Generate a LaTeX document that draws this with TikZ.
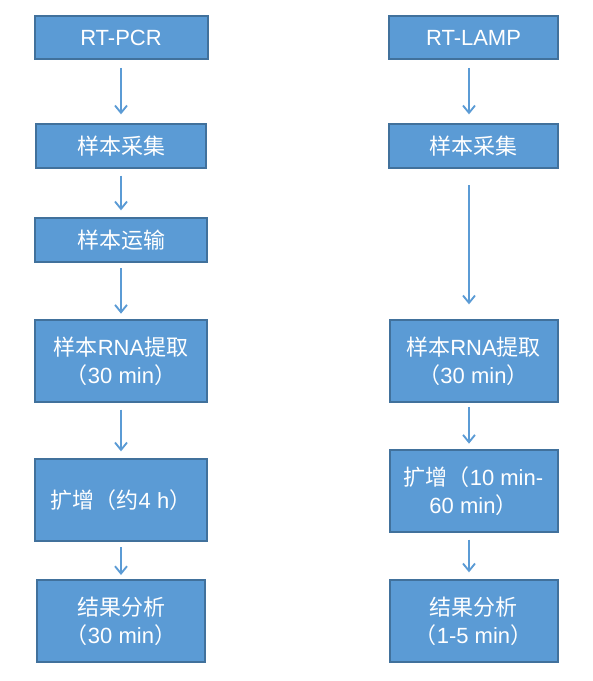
\documentclass[tikz,border=0pt]{standalone}
\usepackage{fontspec}
\setmainfont{Liberation Sans}
\newfontfamily\zhfont{Noto Sans CJK SC}
\newcommand{\zh}[1]{{\zhfont #1}}
\usetikzlibrary{arrows.meta}
\definecolor{boxfill}{HTML}{5B9BD5}
\definecolor{boxline}{HTML}{41719C}

\begin{document}
\begin{tikzpicture}[x=0.75pt,y=0.75pt,yscale=-1,
	stepbox/.style={draw=boxline,fill=boxfill,line width=1.5pt,text=white,align=center,inner sep=0pt,font=\fontsize{16.5}{21}\selectfont},
	flow/.style={draw=boxfill,line width=1.4pt,-{Straight Barb[length=5.5pt,width=9pt,line width=1.4pt]},shorten <=5pt,shorten >=5pt}]
	\useasboundingbox (0,0) rectangle (592,681);
	
	%Shape: Rectangle, left column
	\node (pcr) [stepbox,minimum width=129.75pt,minimum height=32.25pt] at (121,37.5) {RT-PCR};
	\node (pcrcol) [stepbox,minimum width=127.5pt,minimum height=33pt] at (121,146) {\zh{样本采集}};
	\node (pcrship) [stepbox,minimum width=129pt,minimum height=33pt] at (121,240) {\zh{样本运输}};
	\node (pcrrna) [stepbox,minimum width=129pt,minimum height=61.5pt] at (121,361) {\zh{样本}RNA\zh{提取}\\\zh{（}30 min\zh{）}};
	\node (pcramp) [stepbox,minimum width=129pt,minimum height=61.5pt] at (121,500) {\zh{扩增（约}4 h\zh{）}};
	\node (pcrres) [stepbox,minimum width=126pt,minimum height=61.5pt] at (121,621) {\zh{结果分析}\\\zh{（}30 min\zh{）}};
	
	%Shape: Rectangle, right column
	\node (lamp) [stepbox,minimum width=126.75pt,minimum height=32.25pt] at (473.5,37.5) {RT-LAMP};
	\node (lampcol) [stepbox,minimum width=126.75pt,minimum height=33pt] at (473.5,146) {\zh{样本采集}};
	\node (lamprna) [stepbox,minimum width=126pt,minimum height=61.5pt] at (473.5,361) {\zh{样本}RNA\zh{提取}\\\zh{（}30 min\zh{）}};
	\node (lampamp) [stepbox,minimum width=126pt,minimum height=61.5pt] at (473.5,491) {\zh{扩增（}10 min-\\60 min\zh{）}};
	\node (lampres) [stepbox,minimum width=126pt,minimum height=61.5pt] at (473.5,621) {\zh{结果分析}\\\zh{（}1-5 min\zh{）}};
	
	%Straight Lines, left column
	\draw [flow,shorten <=6pt,shorten >=6.5pt] (pcr) -- (pcrcol);
	\draw [flow] (pcrcol) -- (pcrship);
	\draw [flow,shorten <=4pt,shorten >=4pt] (pcrship) -- (pcrrna);
	\draw [flow] (pcrrna) -- (pcramp);
	\draw [flow,shorten <=4pt,shorten >=3pt] (pcramp) -- (pcrres);
	
	%Straight Lines, right column
	\draw [flow,shorten <=6pt,shorten >=6.5pt] ([xshift=-3.375pt]lamp.south) -- ([xshift=-3.375pt]lampcol.north);
	\draw [flow,shorten <=12pt,shorten >=11pt] ([xshift=-3.375pt]lampcol.south) -- ([xshift=-3.375pt]lamprna.north);
	\draw [flow,shorten <=3pt,shorten >=4pt] ([xshift=-3.375pt]lamprna.south) -- ([xshift=-3.375pt]lampamp.north);
	\draw [flow] ([xshift=-3.375pt]lampamp.south) -- ([xshift=-3.375pt]lampres.north);
	
\end{tikzpicture}
\end{document}
